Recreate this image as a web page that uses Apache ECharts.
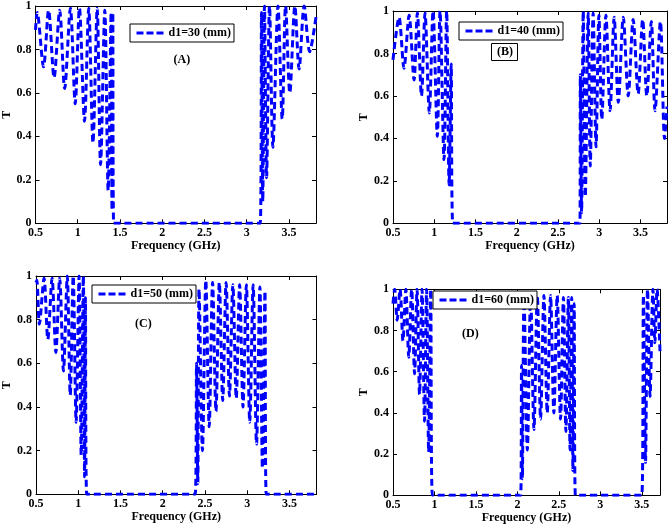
<!DOCTYPE html>
<html>
<head>
<meta charset="utf-8">
<script src="https://cdn.jsdelivr.net/npm/echarts@6/dist/echarts.min.js"></script>
<style>html,body{margin:0;padding:0;background:#fff}#c{width:668px;height:525px}</style>
</head>
<body>
<div id="c"></div>
<script>
// ---- data ----
const seriesNames = ['d1=30 (mm)', 'd1=40 (mm)', 'd1=50 (mm)', 'd1=60 (mm)'];
const panelLabels = ['(A)', '(B)', '(C)', '(D)'];
const xTicks = [0.5, 1, 1.5, 2, 2.5, 3, 3.5];
const yTicks = [0, 0.2, 0.4, 0.6, 0.8, 1];
const xMaxes = [3.82, 3.82, 3.82, 3.72];

const freqA = [0.50,0.52,0.595,0.655,0.72,0.786,0.845,0.913,0.97,1.02,1.08,1.13,1.18,1.23,1.27,1.32,1.36,1.395,1.405,1.415,1.425,
               3.16,3.175,3.19,3.21,3.235,3.27,3.31,3.37,3.42,3.46,3.51,3.57,3.62,3.68,3.745,3.82];
const transA = [0.89,0.97,0.72,0.98,0.67,0.98,0.62,0.99,0.55,0.99,0.47,0.99,0.37,0.99,0.27,0.98,0.15,0.97,0.06,0.97,0.0,
                0.0,0.97,0.1,1.0,0.21,1.0,0.35,1.0,0.48,1.0,0.60,1.0,0.71,1.0,0.79,0.95];

const freqB = [0.50,0.573,0.633,0.695,0.755,0.795,0.845,0.888,0.94,0.985,1.037,1.07,1.118,1.15,1.18,1.205,1.225,
               2.765,2.77,2.785,2.805,2.83,2.865,2.89,2.925,2.96,2.995,3.03,3.08,3.13,3.18,3.23,3.29,3.35,3.41,3.47,3.525,3.575,3.63,3.675,3.74,3.79,3.82];
const transB = [0.77,0.97,0.73,0.98,0.675,0.99,0.60,0.99,0.52,1.0,0.41,1.0,0.30,1.0,0.18,0.75,0.0,
                0.0,0.70,0.05,1.0,0.125,0.99,0.27,0.99,0.36,0.98,0.49,0.98,0.53,0.97,0.57,0.97,0.60,0.96,0.61,0.96,0.60,0.95,0.53,0.95,0.40,0.55];

const freqC = [0.50,0.51,0.54,0.595,0.64,0.69,0.735,0.78,0.825,0.87,0.905,0.94,0.975,1.01,1.035,1.06,1.075,1.085,1.10,
               2.385,2.40,2.415,2.43,2.47,2.51,2.55,2.59,2.63,2.67,2.71,2.75,2.79,2.83,2.87,2.91,2.95,2.99,3.03,3.07,3.11,3.15,3.18,3.21,3.225,3.82];
const transC = [0.97,0.98,0.78,0.99,0.71,0.99,0.65,0.99,0.565,1.0,0.455,1.0,0.33,1.0,0.18,1.0,0.08,0.90,0.0,
                0.0,0.60,0.05,0.94,0.20,0.98,0.31,0.97,0.38,0.97,0.43,0.97,0.45,0.96,0.44,0.96,0.40,0.96,0.33,0.96,0.23,0.95,0.12,0.93,0.0,0.0];

const freqD = [0.50,0.52,0.55,0.585,0.62,0.655,0.69,0.725,0.76,0.79,0.82,0.85,0.88,0.905,0.93,0.955,0.975,
               2.04,2.05,2.06,2.08,2.12,2.16,2.20,2.24,2.28,2.32,2.36,2.40,2.44,2.48,2.52,2.555,2.585,2.615,2.635,2.655,2.67,2.685,2.70,
               3.50,3.52,3.545,3.57,3.60,3.635,3.658,3.685,3.72];
const transD = [0.93,1.0,0.85,1.0,0.75,1.0,0.67,1.0,0.59,1.0,0.49,1.0,0.36,1.0,0.21,1.0,0.0,
                0.0,0.63,0.08,0.97,0.22,0.97,0.32,0.97,0.37,0.97,0.40,0.97,0.40,0.97,0.37,0.96,0.31,0.96,0.22,0.96,0.12,0.93,0.0,
                0.0,0.97,0.16,1.0,0.48,1.0,0.74,1.0,0.70];

const freqs = [freqA, freqB, freqC, freqD];
const trans = [transA, transB, transC, transD];

// ---- layout / style ----
const FONT = 'Liberation Serif';
const txt = {fontFamily: FONT, fontWeight: 'bold', fontSize: 12, color: '#000'};
const grids = [
  {left: 35.5, top: 6, width: 280.5, height: 217.3},
  {left: 393, top: 11, width: 274, height: 212.3},
  {left: 36, top: 276, width: 280.5, height: 218.3},
  {left: 393, top: 289.3, width: 267, height: 206}
];
const legendPos = [
  {left: 130, top: 24}, {left: 459, top: 22}, {left: 92, top: 285}, {left: 433, top: 291}
];
const labelPos = [
  {left: 173.5, top: 53}, {left: 491, top: 43}, {left: 135, top: 317}, {left: 462, top: 327}
];
const yNameGap = [22, 22, 22, 20];

const xInterval = xTicks[1] - xTicks[0];
const yInterval = yTicks[1] - yTicks[0];
const lineCol = '#000';

const xAxis = [], yAxis = [], series = [], legend = [], title = [];
grids.forEach((g, i) => {
  g.outerBoundsMode = 'none';
  g.containLabel = false;
  xAxis.push({
    type: 'value', gridIndex: i, position: 'bottom', min: xTicks[0], max: xMaxes[i], interval: xInterval,
    name: 'Frequency (GHz)', nameLocation: 'middle', nameGap: 17, nameTextStyle: txt,
    axisLine: {show: true, onZero: false, lineStyle: {color: lineCol, width: 1}},
    axisTick: {show: true, inside: true, length: 4, lineStyle: {color: lineCol}},
    axisLabel: {...txt, margin: 4, showMaxLabel: false},
    splitLine: {show: false}
  });
  yAxis.push({
    type: 'value', gridIndex: i, position: 'left', min: yTicks[0], max: yTicks[yTicks.length - 1], interval: yInterval,
    name: 'T', nameLocation: 'middle', nameGap: yNameGap[i], nameRotate: 90, nameTextStyle: txt,
    axisLine: {show: true, onZero: false, lineStyle: {color: lineCol, width: 1}},
    axisTick: {show: true, inside: true, length: 4, lineStyle: {color: lineCol}},
    axisLabel: {...txt, margin: 4},
    splitLine: {show: false}
  });
  series.push({
    name: seriesNames[i], type: 'line', xAxisIndex: i, yAxisIndex: i,
    data: freqs[i].map((f, k) => [f, trans[i][k]]),
    symbol: 'none', smooth: 0.3, clip: true,
    lineStyle: {color: '#0000ff', width: 3, type: [7, 4]},
    itemStyle: {color: '#0000ff'}
  });
  legend.push({
    data: [seriesNames[i]], ...legendPos[i], orient: 'horizontal',
    itemWidth: 27, itemHeight: 12, padding: [3, 3, 3, 5],
    borderColor: '#000', borderWidth: 1, borderRadius: 0, backgroundColor: '#fff',
    itemStyle: {opacity: 0},
    lineStyle: {color: '#0000ff', width: 3, type: [7, 3], opacity: 1},
    textStyle: {...txt}, selectedMode: false, z: 10
  });
  const boxed = i === 1;
  title.push({
    text: panelLabels[i], ...labelPos[i],
    padding: boxed ? [2, 5, 2, 6] : 0,
    borderWidth: boxed ? 1 : 0, borderColor: '#000',
    textStyle: {...txt, lineHeight: 14}
  });
});
// mirrored axes (top/right frame with inward ticks, no labels)
grids.forEach((g, i) => {
  xAxis.push({
    type: 'value', gridIndex: i, position: 'top', min: xTicks[0], max: xMaxes[i], interval: xInterval,
    axisLine: {show: true, onZero: false, lineStyle: {color: lineCol, width: 1}},
    axisTick: {show: true, inside: true, length: 4, lineStyle: {color: lineCol}},
    axisLabel: {show: false}, splitLine: {show: false}
  });
  yAxis.push({
    type: 'value', gridIndex: i, position: 'right', min: yTicks[0], max: yTicks[yTicks.length - 1], interval: yInterval,
    axisLine: {show: true, onZero: false, lineStyle: {color: lineCol, width: 1}},
    axisTick: {show: true, inside: true, length: 4, lineStyle: {color: lineCol}},
    axisLabel: {show: false}, splitLine: {show: false}
  });
});

const chart = echarts.init(document.getElementById('c'), null, {renderer: 'canvas'});
chart.setOption({
  animation: false,
  backgroundColor: '#fff',
  grid: grids, xAxis, yAxis, series, legend, title
});
</script>
</body>
</html>
